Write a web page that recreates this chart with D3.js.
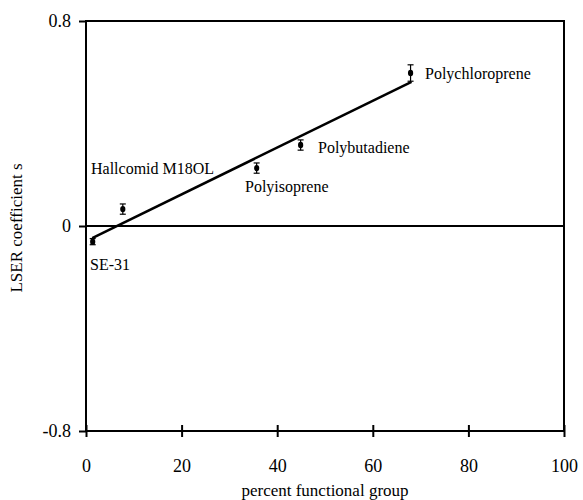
<!DOCTYPE html>
<html><head><meta charset="utf-8">
<script src="https://cdn.jsdelivr.net/npm/d3@7"></script>
<style>body{margin:0;background:#fff}svg{display:block}
svg text{font-family:"Liberation Serif","Times New Roman",Tinos,"DejaVu Serif","Noto Serif",serif !important;}</style>
</head><body><svg id="c" width="583" height="500"></svg>
<script>
const names = ["SE-31","Hallcomid M18OL","Polyisoprene","Polybutadiene","Polychloroprene"];
const xVals = [1.4, 7.7, 35.7, 44.9, 67.9];
const yVals = [-0.061, 0.066, 0.226, 0.316, 0.597];
const yErr = [0.012, 0.02, 0.02, 0.02, 0.032];
const fitX = [1.3, 68.1];
const fitY = [-0.047, 0.562];
const xTicks = [0,20,40,60,80,100];
const yTicks = [-0.8, 0, 0.8];
const yTickLabels = ["-0.8","0","0.8"];

const svg = d3.select("#c");
const x = d3.scaleLinear().domain([0,100]).range([86,564]);
const y = d3.scaleLinear().domain([-0.8,0.8]).range([431,21]);

// frame
const g = svg.append("g").attr("stroke","#000").attr("stroke-width",2).attr("fill","none");
g.append("rect").attr("x",x(0)).attr("y",y(0.8)).attr("width",x(100)-x(0)).attr("height",y(-0.8)-y(0.8));
g.append("line").attr("x1",x(0)).attr("x2",x(100)).attr("y1",y(0)).attr("y2",y(0));

// x axis
const xa = svg.append("g").attr("transform",`translate(0,${y(-0.8)})`)
  .call(d3.axisBottom(x).tickValues(xTicks).tickSize(6).tickPadding(22).tickFormat(d3.format("d")));
xa.select(".domain").remove();
xa.selectAll(".tick line").attr("y1",-6).attr("stroke-width",2);
xa.selectAll("text").attr("font-size",18).attr("fill","#000");

// y axis
const ya = svg.append("g").attr("transform",`translate(${x(0)},0)`)
  .call(d3.axisLeft(y).tickValues(yTicks).tickSize(7).tickPadding(8).tickFormat((d,i)=>yTickLabels[i]));
ya.select(".domain").remove();
ya.selectAll(".tick line").attr("stroke-width",2);
ya.selectAll("text").attr("font-size",18).attr("fill","#000");

// fit line
svg.append("line").attr("x1",x(fitX[0])).attr("y1",y(fitY[0])).attr("x2",x(fitX[1])).attr("y2",y(fitY[1]))
  .attr("stroke","#000").attr("stroke-width",2.5);

// points with error bars
const pts = svg.append("g");
names.forEach((n,i)=>{
  const cx = x(xVals[i]), cy = y(yVals[i]);
  const t = y(yVals[i]+yErr[i]), b = y(yVals[i]-yErr[i]);
  pts.append("line").attr("x1",cx).attr("x2",cx).attr("y1",t).attr("y2",b).attr("stroke","#000").attr("stroke-width",1.2);
  [t,b].forEach(v=>pts.append("line").attr("x1",cx-3).attr("x2",cx+3).attr("y1",v).attr("y2",v).attr("stroke","#000").attr("stroke-width",1.2));
  pts.append("ellipse").attr("cx",cx).attr("cy",cy).attr("rx",2.6).attr("ry",3.2).attr("fill","#000");
});

// labels
const labelPos = [[90,270],[91,174],[245,192],[318,153],[425,79]];
names.forEach((n,i)=>{
  svg.append("text").attr("x",labelPos[i][0]).attr("y",labelPos[i][1])
    .attr("font-size",16).attr("fill","#000").text(n);
});

// axis titles
svg.append("text").attr("x",(x(0)+x(100))/2).attr("y",496).attr("text-anchor","middle")
  .attr("font-size",17).text("percent functional group");
svg.append("text").attr("transform","translate(22,228) rotate(-90)").attr("text-anchor","middle")
  .attr("font-size",17).text("LSER coefficient s");
</script></body></html>
